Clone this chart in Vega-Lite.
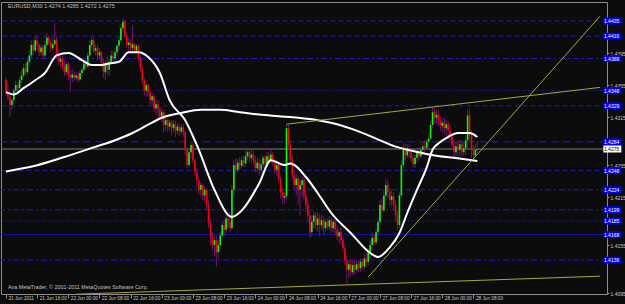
{
"$schema":"https://vega.github.io/schema/vega-lite/v6.json",
"width":606,"height":292,
"autosize":{"type":"none"},
"padding":{"left":1,"top":2,"right":18,"bottom":10},
"background":"#0c0c0c",
"config":{"view":{"stroke":"#8c8c8c","strokeWidth":1},"font":"Liberation Sans"},
"datasets":{
"candles":[
{"t":0,"o":1.4361,"h":1.4364,"l":1.4342,"c":1.4346},{"t":1,"o":1.4346,"h":1.4355,"l":1.4336,"c":1.4340},{"t":2,"o":1.4340,"h":1.4342,"l":1.4315,"c":1.4330},{"t":3,"o":1.4330,"h":1.4338,"l":1.4324,"c":1.4336},{"t":4,"o":1.4336,"h":1.4351,"l":1.4331,"c":1.4348},{"t":5,"o":1.4348,"h":1.4361,"l":1.4345,"c":1.4355},{"t":6,"o":1.4355,"h":1.4358,"l":1.4346,"c":1.4351},{"t":7,"o":1.4351,"h":1.4365,"l":1.4348,"c":1.4361},{"t":8,"o":1.4361,"h":1.4374,"l":1.4357,"c":1.4367},{"t":9,"o":1.4367,"h":1.4381,"l":1.4364,"c":1.4376},
{"t":10,"o":1.4376,"h":1.4382,"l":1.4367,"c":1.4371},{"t":11,"o":1.4371,"h":1.4388,"l":1.4368,"c":1.4384},{"t":12,"o":1.4384,"h":1.4398,"l":1.4380,"c":1.4392},{"t":13,"o":1.4392,"h":1.4411,"l":1.4388,"c":1.4405},{"t":14,"o":1.4405,"h":1.4411,"l":1.4392,"c":1.4398},{"t":15,"o":1.4398,"h":1.4417,"l":1.4396,"c":1.4411},{"t":16,"o":1.4411,"h":1.4416,"l":1.4398,"c":1.4405},{"t":17,"o":1.4405,"h":1.4408,"l":1.4391,"c":1.4396},{"t":18,"o":1.4396,"h":1.4406,"l":1.4392,"c":1.4402},{"t":19,"o":1.4402,"h":1.4405,"l":1.4388,"c":1.4392},
{"t":20,"o":1.4392,"h":1.4411,"l":1.4390,"c":1.4405},{"t":21,"o":1.4405,"h":1.4420,"l":1.4401,"c":1.4414},{"t":22,"o":1.4414,"h":1.4417,"l":1.4404,"c":1.4408},{"t":23,"o":1.4408,"h":1.4411,"l":1.4396,"c":1.4401},{"t":24,"o":1.4401,"h":1.4414,"l":1.4398,"c":1.4406},{"t":25,"o":1.4406,"h":1.4432,"l":1.4404,"c":1.4411},{"t":26,"o":1.4411,"h":1.4416,"l":1.4388,"c":1.4392},{"t":27,"o":1.4392,"h":1.4398,"l":1.4380,"c":1.4384},{"t":28,"o":1.4384,"h":1.4392,"l":1.4378,"c":1.4388},{"t":29,"o":1.4388,"h":1.4392,"l":1.4374,"c":1.4378},
{"t":30,"o":1.4378,"h":1.4386,"l":1.4366,"c":1.4371},{"t":31,"o":1.4371,"h":1.4384,"l":1.4367,"c":1.4381},{"t":32,"o":1.4381,"h":1.4384,"l":1.4361,"c":1.4367},{"t":33,"o":1.4367,"h":1.4374,"l":1.4346,"c":1.4364},{"t":34,"o":1.4364,"h":1.4374,"l":1.4358,"c":1.4368},{"t":35,"o":1.4368,"h":1.4372,"l":1.4360,"c":1.4364},{"t":36,"o":1.4364,"h":1.4371,"l":1.4361,"c":1.4367},{"t":37,"o":1.4367,"h":1.4371,"l":1.4358,"c":1.4362},{"t":38,"o":1.4362,"h":1.4374,"l":1.4360,"c":1.4370},{"t":39,"o":1.4370,"h":1.4378,"l":1.4366,"c":1.4374},
{"t":40,"o":1.4374,"h":1.4386,"l":1.4371,"c":1.4382},{"t":41,"o":1.4382,"h":1.4386,"l":1.4374,"c":1.4378},{"t":42,"o":1.4378,"h":1.4396,"l":1.4376,"c":1.4392},{"t":43,"o":1.4392,"h":1.4411,"l":1.4390,"c":1.4405},{"t":44,"o":1.4405,"h":1.4416,"l":1.4401,"c":1.4411},{"t":45,"o":1.4411,"h":1.4414,"l":1.4395,"c":1.4398},{"t":46,"o":1.4398,"h":1.4406,"l":1.4392,"c":1.4401},{"t":47,"o":1.4401,"h":1.4405,"l":1.4386,"c":1.4392},{"t":48,"o":1.4392,"h":1.4401,"l":1.4388,"c":1.4396},{"t":49,"o":1.4396,"h":1.4398,"l":1.4378,"c":1.4384},
{"t":50,"o":1.4384,"h":1.4388,"l":1.4364,"c":1.4371},{"t":51,"o":1.4371,"h":1.4386,"l":1.4361,"c":1.4380},{"t":52,"o":1.4380,"h":1.4392,"l":1.4368,"c":1.4374},{"t":53,"o":1.4374,"h":1.4388,"l":1.4366,"c":1.4384},{"t":54,"o":1.4384,"h":1.4398,"l":1.4381,"c":1.4392},{"t":55,"o":1.4392,"h":1.4398,"l":1.4384,"c":1.4388},{"t":56,"o":1.4388,"h":1.4401,"l":1.4386,"c":1.4396},{"t":57,"o":1.4396,"h":1.4406,"l":1.4391,"c":1.4404},{"t":58,"o":1.4404,"h":1.4416,"l":1.4398,"c":1.4411},{"t":59,"o":1.4411,"h":1.4431,"l":1.4408,"c":1.4426},
{"t":60,"o":1.4426,"h":1.4439,"l":1.4421,"c":1.4434},{"t":61,"o":1.4434,"h":1.4436,"l":1.4414,"c":1.4417},{"t":62,"o":1.4417,"h":1.4421,"l":1.4401,"c":1.4405},{"t":63,"o":1.4405,"h":1.4414,"l":1.4398,"c":1.4408},{"t":64,"o":1.4408,"h":1.4411,"l":1.4396,"c":1.4401},{"t":65,"o":1.4401,"h":1.4430,"l":1.4398,"c":1.4406},{"t":66,"o":1.4406,"h":1.4408,"l":1.4394,"c":1.4398},{"t":67,"o":1.4398,"h":1.4406,"l":1.4395,"c":1.4404},{"t":68,"o":1.4404,"h":1.4406,"l":1.4384,"c":1.4388},{"t":69,"o":1.4388,"h":1.4392,"l":1.4371,"c":1.4376},
{"t":70,"o":1.4376,"h":1.4380,"l":1.4356,"c":1.4361},{"t":71,"o":1.4361,"h":1.4364,"l":1.4342,"c":1.4348},{"t":72,"o":1.4348,"h":1.4358,"l":1.4340,"c":1.4355},{"t":73,"o":1.4355,"h":1.4357,"l":1.4341,"c":1.4346},{"t":74,"o":1.4346,"h":1.4348,"l":1.4331,"c":1.4336},{"t":75,"o":1.4336,"h":1.4345,"l":1.4328,"c":1.4341},{"t":76,"o":1.4341,"h":1.4344,"l":1.4321,"c":1.4326},{"t":77,"o":1.4326,"h":1.4336,"l":1.4318,"c":1.4331},{"t":78,"o":1.4331,"h":1.4336,"l":1.4311,"c":1.4324},{"t":79,"o":1.4324,"h":1.4328,"l":1.4311,"c":1.4316},
{"t":80,"o":1.4316,"h":1.4327,"l":1.4308,"c":1.4321},{"t":81,"o":1.4321,"h":1.4324,"l":1.4295,"c":1.4305},{"t":82,"o":1.4305,"h":1.4317,"l":1.4298,"c":1.4311},{"t":83,"o":1.4311,"h":1.4313,"l":1.4296,"c":1.4303},{"t":84,"o":1.4303,"h":1.4312,"l":1.4298,"c":1.4308},{"t":85,"o":1.4308,"h":1.4311,"l":1.4292,"c":1.4301},{"t":86,"o":1.4301,"h":1.4311,"l":1.4296,"c":1.4306},{"t":87,"o":1.4306,"h":1.4310,"l":1.4290,"c":1.4298},{"t":88,"o":1.4298,"h":1.4308,"l":1.4293,"c":1.4303},{"t":89,"o":1.4303,"h":1.4307,"l":1.4291,"c":1.4297},
{"t":90,"o":1.4297,"h":1.4306,"l":1.4293,"c":1.4302},{"t":91,"o":1.4302,"h":1.4306,"l":1.4290,"c":1.4296},{"t":92,"o":1.4296,"h":1.4298,"l":1.4267,"c":1.4274},{"t":93,"o":1.4274,"h":1.4276,"l":1.4251,"c":1.4255},{"t":94,"o":1.4255,"h":1.4276,"l":1.4252,"c":1.4271},{"t":95,"o":1.4271,"h":1.4283,"l":1.4263,"c":1.4280},{"t":96,"o":1.4280,"h":1.4282,"l":1.4257,"c":1.4261},{"t":97,"o":1.4261,"h":1.4263,"l":1.4241,"c":1.4246},{"t":98,"o":1.4246,"h":1.4251,"l":1.4228,"c":1.4236},{"t":99,"o":1.4236,"h":1.4241,"l":1.4218,"c":1.4224},
{"t":100,"o":1.4224,"h":1.4233,"l":1.4216,"c":1.4230},{"t":101,"o":1.4230,"h":1.4232,"l":1.4211,"c":1.4217},{"t":102,"o":1.4217,"h":1.4228,"l":1.4209,"c":1.4224},{"t":103,"o":1.4224,"h":1.4226,"l":1.4198,"c":1.4205},{"t":104,"o":1.4205,"h":1.4211,"l":1.4176,"c":1.4184},{"t":105,"o":1.4184,"h":1.4188,"l":1.4155,"c":1.4164},{"t":106,"o":1.4164,"h":1.4171,"l":1.4149,"c":1.4155},{"t":107,"o":1.4155,"h":1.4167,"l":1.4142,"c":1.4161},{"t":108,"o":1.4161,"h":1.4166,"l":1.4128,"c":1.4146},{"t":109,"o":1.4146,"h":1.4161,"l":1.4138,"c":1.4155},
{"t":110,"o":1.4155,"h":1.4171,"l":1.4149,"c":1.4167},{"t":111,"o":1.4167,"h":1.4184,"l":1.4161,"c":1.4180},{"t":112,"o":1.4180,"h":1.4188,"l":1.4166,"c":1.4174},{"t":113,"o":1.4174,"h":1.4196,"l":1.4170,"c":1.4188},{"t":114,"o":1.4188,"h":1.4194,"l":1.4176,"c":1.4184},{"t":115,"o":1.4184,"h":1.4196,"l":1.4171,"c":1.4176},{"t":116,"o":1.4176,"h":1.4230,"l":1.4174,"c":1.4224},{"t":117,"o":1.4224,"h":1.4261,"l":1.4217,"c":1.4255},{"t":118,"o":1.4255,"h":1.4263,"l":1.4242,"c":1.4249},{"t":119,"o":1.4249,"h":1.4263,"l":1.4246,"c":1.4258},
{"t":120,"o":1.4258,"h":1.4265,"l":1.4249,"c":1.4254},{"t":121,"o":1.4254,"h":1.4266,"l":1.4251,"c":1.4261},{"t":122,"o":1.4261,"h":1.4267,"l":1.4252,"c":1.4257},{"t":123,"o":1.4257,"h":1.4274,"l":1.4253,"c":1.4266},{"t":124,"o":1.4266,"h":1.4277,"l":1.4261,"c":1.4271},{"t":125,"o":1.4271,"h":1.4275,"l":1.4258,"c":1.4264},{"t":126,"o":1.4264,"h":1.4274,"l":1.4258,"c":1.4268},{"t":127,"o":1.4268,"h":1.4272,"l":1.4256,"c":1.4261},{"t":128,"o":1.4261,"h":1.4267,"l":1.4246,"c":1.4251},{"t":129,"o":1.4251,"h":1.4263,"l":1.4246,"c":1.4258},
{"t":130,"o":1.4258,"h":1.4263,"l":1.4242,"c":1.4249},{"t":131,"o":1.4249,"h":1.4261,"l":1.4245,"c":1.4256},{"t":132,"o":1.4256,"h":1.4267,"l":1.4251,"c":1.4264},{"t":133,"o":1.4264,"h":1.4267,"l":1.4251,"c":1.4257},{"t":134,"o":1.4257,"h":1.4271,"l":1.4253,"c":1.4266},{"t":135,"o":1.4266,"h":1.4271,"l":1.4256,"c":1.4261},{"t":136,"o":1.4261,"h":1.4274,"l":1.4257,"c":1.4268},{"t":137,"o":1.4268,"h":1.4271,"l":1.4253,"c":1.4258},{"t":138,"o":1.4258,"h":1.4263,"l":1.4244,"c":1.4249},{"t":139,"o":1.4249,"h":1.4261,"l":1.4241,"c":1.4255},
{"t":140,"o":1.4255,"h":1.4258,"l":1.4234,"c":1.4238},{"t":141,"o":1.4238,"h":1.4242,"l":1.4214,"c":1.4221},{"t":142,"o":1.4221,"h":1.4226,"l":1.4206,"c":1.4214},{"t":143,"o":1.4214,"h":1.4221,"l":1.4207,"c":1.4216},{"t":144,"o":1.4216,"h":1.4306,"l":1.4211,"c":1.4301},{"t":145,"o":1.4301,"h":1.4305,"l":1.4274,"c":1.4280},{"t":146,"o":1.4280,"h":1.4286,"l":1.4255,"c":1.4261},{"t":147,"o":1.4261,"h":1.4267,"l":1.4236,"c":1.4242},{"t":148,"o":1.4242,"h":1.4249,"l":1.4224,"c":1.4230},{"t":149,"o":1.4230,"h":1.4244,"l":1.4217,"c":1.4238},
{"t":150,"o":1.4238,"h":1.4242,"l":1.4205,"c":1.4224},{"t":151,"o":1.4224,"h":1.4236,"l":1.4192,"c":1.4230},{"t":152,"o":1.4230,"h":1.4241,"l":1.4214,"c":1.4236},{"t":153,"o":1.4236,"h":1.4240,"l":1.4211,"c":1.4217},{"t":154,"o":1.4217,"h":1.4224,"l":1.4196,"c":1.4205},{"t":155,"o":1.4205,"h":1.4211,"l":1.4184,"c":1.4192},{"t":156,"o":1.4192,"h":1.4198,"l":1.4164,"c":1.4171},{"t":157,"o":1.4171,"h":1.4192,"l":1.4166,"c":1.4184},{"t":158,"o":1.4184,"h":1.4198,"l":1.4176,"c":1.4192},{"t":159,"o":1.4192,"h":1.4196,"l":1.4174,"c":1.4180},
{"t":160,"o":1.4180,"h":1.4196,"l":1.4171,"c":1.4188},{"t":161,"o":1.4188,"h":1.4194,"l":1.4166,"c":1.4180},{"t":162,"o":1.4180,"h":1.4192,"l":1.4174,"c":1.4186},{"t":163,"o":1.4186,"h":1.4191,"l":1.4168,"c":1.4176},{"t":164,"o":1.4176,"h":1.4188,"l":1.4171,"c":1.4184},{"t":165,"o":1.4184,"h":1.4188,"l":1.4174,"c":1.4178},{"t":166,"o":1.4178,"h":1.4191,"l":1.4174,"c":1.4186},{"t":167,"o":1.4186,"h":1.4190,"l":1.4170,"c":1.4176},{"t":168,"o":1.4176,"h":1.4188,"l":1.4171,"c":1.4184},{"t":169,"o":1.4184,"h":1.4187,"l":1.4167,"c":1.4174},
{"t":170,"o":1.4174,"h":1.4181,"l":1.4161,"c":1.4166},{"t":171,"o":1.4166,"h":1.4176,"l":1.4158,"c":1.4171},{"t":172,"o":1.4171,"h":1.4176,"l":1.4155,"c":1.4161},{"t":173,"o":1.4161,"h":1.4166,"l":1.4146,"c":1.4151},{"t":174,"o":1.4151,"h":1.4156,"l":1.4130,"c":1.4136},{"t":175,"o":1.4136,"h":1.4142,"l":1.4107,"c":1.4124},{"t":176,"o":1.4124,"h":1.4136,"l":1.4114,"c":1.4131},{"t":177,"o":1.4131,"h":1.4138,"l":1.4116,"c":1.4121},{"t":178,"o":1.4121,"h":1.4136,"l":1.4117,"c":1.4130},{"t":179,"o":1.4130,"h":1.4135,"l":1.4118,"c":1.4124},
{"t":180,"o":1.4124,"h":1.4136,"l":1.4120,"c":1.4131},{"t":181,"o":1.4131,"h":1.4136,"l":1.4121,"c":1.4126},{"t":182,"o":1.4126,"h":1.4138,"l":1.4121,"c":1.4134},{"t":183,"o":1.4134,"h":1.4138,"l":1.4124,"c":1.4128},{"t":184,"o":1.4128,"h":1.4144,"l":1.4124,"c":1.4138},{"t":185,"o":1.4138,"h":1.4145,"l":1.4128,"c":1.4134},{"t":186,"o":1.4134,"h":1.4151,"l":1.4130,"c":1.4146},{"t":187,"o":1.4146,"h":1.4161,"l":1.4141,"c":1.4155},{"t":188,"o":1.4155,"h":1.4171,"l":1.4149,"c":1.4164},{"t":189,"o":1.4164,"h":1.4168,"l":1.4154,"c":1.4158},
{"t":190,"o":1.4158,"h":1.4176,"l":1.4155,"c":1.4171},{"t":191,"o":1.4171,"h":1.4188,"l":1.4166,"c":1.4184},{"t":192,"o":1.4184,"h":1.4211,"l":1.4180,"c":1.4205},{"t":193,"o":1.4205,"h":1.4214,"l":1.4194,"c":1.4198},{"t":194,"o":1.4198,"h":1.4224,"l":1.4196,"c":1.4217},{"t":195,"o":1.4217,"h":1.4238,"l":1.4211,"c":1.4230},{"t":196,"o":1.4230,"h":1.4236,"l":1.4214,"c":1.4221},{"t":197,"o":1.4221,"h":1.4226,"l":1.4205,"c":1.4211},{"t":198,"o":1.4211,"h":1.4224,"l":1.4204,"c":1.4216},{"t":199,"o":1.4216,"h":1.4221,"l":1.4198,"c":1.4205},
{"t":200,"o":1.4205,"h":1.4211,"l":1.4184,"c":1.4192},{"t":201,"o":1.4192,"h":1.4198,"l":1.4174,"c":1.4180},{"t":202,"o":1.4180,"h":1.4221,"l":1.4176,"c":1.4217},{"t":203,"o":1.4217,"h":1.4261,"l":1.4214,"c":1.4255},{"t":204,"o":1.4255,"h":1.4282,"l":1.4251,"c":1.4274},{"t":205,"o":1.4274,"h":1.4282,"l":1.4261,"c":1.4267},{"t":206,"o":1.4267,"h":1.4281,"l":1.4264,"c":1.4276},{"t":207,"o":1.4276,"h":1.4281,"l":1.4264,"c":1.4271},{"t":208,"o":1.4271,"h":1.4276,"l":1.4258,"c":1.4264},{"t":209,"o":1.4264,"h":1.4268,"l":1.4252,"c":1.4256},
{"t":210,"o":1.4256,"h":1.4268,"l":1.4251,"c":1.4264},{"t":211,"o":1.4264,"h":1.4276,"l":1.4258,"c":1.4271},{"t":212,"o":1.4271,"h":1.4276,"l":1.4261,"c":1.4266},{"t":213,"o":1.4266,"h":1.4278,"l":1.4264,"c":1.4274},{"t":214,"o":1.4274,"h":1.4284,"l":1.4268,"c":1.4278},{"t":215,"o":1.4278,"h":1.4286,"l":1.4271,"c":1.4276},{"t":216,"o":1.4276,"h":1.4288,"l":1.4274,"c":1.4284},{"t":217,"o":1.4284,"h":1.4294,"l":1.4278,"c":1.4288},{"t":218,"o":1.4288,"h":1.4311,"l":1.4286,"c":1.4305},{"t":219,"o":1.4305,"h":1.4327,"l":1.4301,"c":1.4321},
{"t":220,"o":1.4321,"h":1.4326,"l":1.4308,"c":1.4314},{"t":221,"o":1.4314,"h":1.4324,"l":1.4306,"c":1.4318},{"t":222,"o":1.4318,"h":1.4324,"l":1.4304,"c":1.4311},{"t":223,"o":1.4311,"h":1.4316,"l":1.4298,"c":1.4304},{"t":224,"o":1.4304,"h":1.4314,"l":1.4296,"c":1.4308},{"t":225,"o":1.4308,"h":1.4314,"l":1.4294,"c":1.4301},{"t":226,"o":1.4301,"h":1.4311,"l":1.4291,"c":1.4306},{"t":227,"o":1.4306,"h":1.4310,"l":1.4290,"c":1.4298},{"t":228,"o":1.4298,"h":1.4304,"l":1.4286,"c":1.4291},{"t":229,"o":1.4291,"h":1.4296,"l":1.4274,"c":1.4280},
{"t":230,"o":1.4280,"h":1.4286,"l":1.4265,"c":1.4271},{"t":231,"o":1.4271,"h":1.4284,"l":1.4266,"c":1.4278},{"t":232,"o":1.4278,"h":1.4284,"l":1.4264,"c":1.4274},{"t":233,"o":1.4274,"h":1.4286,"l":1.4267,"c":1.4281},{"t":234,"o":1.4281,"h":1.4286,"l":1.4266,"c":1.4271},{"t":235,"o":1.4271,"h":1.4284,"l":1.4266,"c":1.4276},{"t":236,"o":1.4276,"h":1.4292,"l":1.4267,"c":1.4286},{"t":237,"o":1.4286,"h":1.4324,"l":1.4274,"c":1.4317},{"t":238,"o":1.4317,"h":1.4326,"l":1.4286,"c":1.4292},{"t":239,"o":1.4292,"h":1.4298,"l":1.4264,"c":1.4274},
{"t":240,"o":1.4274,"h":1.4280,"l":1.4261,"c":1.4267},{"t":241,"o":1.4267,"h":1.4282,"l":1.4264,"c":1.4274},{"t":242,"o":1.4274,"h":1.4285,"l":1.4272,"c":1.4275}
],
"levels":[{"p":1.4435},{"p":1.4416},{"p":1.4388},{"p":1.4348},{"p":1.4329},{"p":1.4284},{"p":1.4248},{"p":1.4224},{"p":1.4199},{"p":1.4185},{"p":1.4168},{"p":1.4136}],
"slow":[{"t":0,"p":1.4247},{"t":15,"p":1.4254},{"t":30,"p":1.4265},{"t":45,"p":1.4277},{"t":55,"p":1.4285},{"t":65,"p":1.4295},{"t":75,"p":1.4308},{"t":80,"p":1.4314},{"t":90,"p":1.4320},{"t":100,"p":1.4324},{"t":110,"p":1.4324},{"t":120,"p":1.4321},{"t":130,"p":1.4318},{"t":140,"p":1.4316},{"t":150,"p":1.4314},{"t":160,"p":1.4311},{"t":170,"p":1.4306},{"t":180,"p":1.4298},{"t":190,"p":1.4288},{"t":200,"p":1.4278},{"t":210,"p":1.4272},{"t":220,"p":1.4267},{"t":230,"p":1.4264},{"t":242,"p":1.4260}],
"fast":[{"t":0,"p":1.4346},{"t":4,"p":1.4343},{"t":9,"p":1.4351},{"t":15,"p":1.4361},{"t":20,"p":1.4370},{"t":26,"p":1.4392},{"t":32,"p":1.4395},{"t":39,"p":1.4386},{"t":44,"p":1.4380},{"t":49,"p":1.4380},{"t":53,"p":1.4382},{"t":58,"p":1.4384},{"t":63,"p":1.4396},{"t":68,"p":1.4396},{"t":73,"p":1.4390},{"t":79,"p":1.4370},{"t":84,"p":1.4336},{"t":92,"p":1.4311},{"t":99,"p":1.4274},{"t":107,"p":1.4224},{"t":116,"p":1.4190},{"t":121,"p":1.4198},{"t":130,"p":1.4232},{"t":136,"p":1.4261},{"t":143,"p":1.4255},{"t":146,"p":1.4257},{"t":154,"p":1.4240},{"t":160,"p":1.4220},{"t":167,"p":1.4195},{"t":177,"p":1.4170},{"t":187,"p":1.4145},{"t":191,"p":1.4140},{"t":197,"p":1.4152},{"t":202,"p":1.4170},{"t":206,"p":1.4195},{"t":211,"p":1.4224},{"t":216,"p":1.4252},{"t":219,"p":1.4274},{"t":222,"p":1.4282},{"t":227,"p":1.4290},{"t":232,"p":1.4295},{"t":238,"p":1.4295},{"t":242,"p":1.4290}],
"trend":[{"line":"a","t":36,"p":1.40935},{"line":"a","t":305,"p":1.4116},{"line":"b","t":144,"p":1.4306},{"line":"b","t":305,"p":1.4352},{"line":"c","t":186,"p":1.4115},{"line":"c","t":305,"p":1.4441}]
},
"layer":[
{"data":{"name":"levels"},"transform":[{"filter":{"field":"p","oneOf":[1.4435,1.4416,1.4329,1.4248]}}],
 "mark":{"type":"rule","color":"#1c1cd8","strokeWidth":1,"strokeDash":[4,4]},
 "encoding":{"y":{"field":"p","type":"quantitative","scale":{"domain":[1.409375,1.445875],"nice":false,"zero":false},
   "axis":{"orient":"right","values":[1.4095,1.4115,1.4155,1.4175,1.4215,1.4235,1.4255,1.4295,1.4315,1.4335,1.4355,1.4375,1.4395,1.4455],"format":".4f","labelFontSize":5,"labelColor":"#c8c8c8","tickColor":"#8c8c8c","tickSize":2,"labelPadding":1,"domain":false,"grid":false,"title":null,"labelOverlap":false,"labelFlush":false,"labelBaseline":"middle"}}}},
{"data":{"name":"levels"},"transform":[{"filter":{"field":"p","oneOf":[1.4388,1.4224,1.4199,1.4136]}}],
 "mark":{"type":"rule","color":"#1c1cd8","strokeWidth":1,"strokeDash":[6,3,2,3]},
 "encoding":{"y":{"field":"p","type":"quantitative","scale":{"domain":[1.409375,1.445875],"nice":false,"zero":false}}}},
{"data":{"name":"levels"},"transform":[{"filter":{"field":"p","oneOf":[1.4348,1.4185]}}],
 "mark":{"type":"rule","color":"#1c1cd8","strokeWidth":1,"strokeDash":[1,2]},
 "encoding":{"y":{"field":"p","type":"quantitative","scale":{"domain":[1.409375,1.445875],"nice":false,"zero":false}}}},
{"data":{"name":"levels"},"transform":[{"filter":{"field":"p","oneOf":[1.4284]}}],
 "mark":{"type":"rule","color":"#1c1cd8","strokeWidth":1,"strokeDash":[8,4]},
 "encoding":{"y":{"field":"p","type":"quantitative","scale":{"domain":[1.409375,1.445875],"nice":false,"zero":false}}}},
{"data":{"name":"levels"},"transform":[{"filter":{"field":"p","oneOf":[1.4168]}}],
 "mark":{"type":"rule","color":"#1010b0","strokeWidth":1},
 "encoding":{"y":{"field":"p","type":"quantitative","scale":{"domain":[1.409375,1.445875],"nice":false,"zero":false}}}},
{"data":{"values":[{"p":1.4275}]},
 "mark":{"type":"rule","color":"#808080","strokeWidth":1},
 "encoding":{"y":{"field":"p","type":"quantitative","scale":{"domain":[1.409375,1.445875],"nice":false,"zero":false}}}},
{"data":{"name":"candles"},
 "mark":{"type":"rule","color":"#6a1a6a","strokeWidth":1},
 "encoding":{"x":{"field":"t","type":"quantitative","scale":{"domain":[0,306],"nice":false,"zero":false},
   "axis":{"values":[0,16,32,48,64,80,96,112,128,144,160,176,192,208,224,240],"labelExpr":"['21 Jun 2011','21 Jun 16:00','22 Jun 00:00','22 Jun 08:00','22 Jun 16:00','23 Jun 00:00','23 Jun 08:00','23 Jun 16:00','24 Jun 00:00','24 Jun 08:00','24 Jun 16:00','27 Jun 00:00','27 Jun 08:00','27 Jun 16:00','28 Jun 00:00','28 Jun 08:00'][round(datum.value/16)]","labelAlign":"left","labelBaseline":"top","labelFontSize":4.7,"labelColor":"#c8c8c8","tickColor":"#8c8c8c","tickSize":4,"labelPadding":-3,"labelOffset":2,"domain":false,"grid":false,"title":null,"labelOverlap":false,"labelFlush":false}},
  "y":{"field":"l","type":"quantitative","scale":{"domain":[1.409375,1.445875],"nice":false,"zero":false}},
  "y2":{"field":"h"}}},
{"data":{"name":"candles"},
 "mark":{"type":"bar","size":1.6},
 "encoding":{"x":{"field":"t","type":"quantitative","scale":{"domain":[0,306],"nice":false,"zero":false}},
  "y":{"field":"o","type":"quantitative","scale":{"domain":[1.409375,1.445875],"nice":false,"zero":false}},
  "y2":{"field":"c"},
  "color":{"condition":{"test":"datum.c >= datum.o","value":"#00ff00"},"value":"#ff0000"}}},
{"data":{"name":"slow"},
 "mark":{"type":"line","color":"#ffffff","strokeWidth":2,"interpolate":"monotone"},
 "encoding":{"x":{"field":"t","type":"quantitative","scale":{"domain":[0,306],"nice":false,"zero":false}},
  "y":{"field":"p","type":"quantitative","scale":{"domain":[1.409375,1.445875],"nice":false,"zero":false}}}},
{"data":{"name":"fast"},
 "mark":{"type":"line","color":"#ffffff","strokeWidth":2,"interpolate":"monotone"},
 "encoding":{"x":{"field":"t","type":"quantitative","scale":{"domain":[0,306],"nice":false,"zero":false}},
  "y":{"field":"p","type":"quantitative","scale":{"domain":[1.409375,1.445875],"nice":false,"zero":false}}}},
{"data":{"name":"trend"},
 "mark":{"type":"line","color":"#a8a83a","strokeWidth":1,"clip":true},
 "encoding":{"x":{"field":"t","type":"quantitative","scale":{"domain":[0,306],"nice":false,"zero":false}},
  "y":{"field":"p","type":"quantitative","scale":{"domain":[1.409375,1.445875],"nice":false,"zero":false}},
  "detail":{"field":"line"}}},
{"data":{"name":"levels"},
 "mark":{"type":"tick","orient":"horizontal","size":18,"thickness":7,"color":"#0000f0","opacity":1},
 "encoding":{"x":{"datum":311.3,"type":"quantitative","scale":{"domain":[0,306],"nice":false,"zero":false}},
  "y":{"field":"p","type":"quantitative","scale":{"domain":[1.409375,1.445875],"nice":false,"zero":false}}}},
{"data":{"name":"levels"},
 "mark":{"type":"text","align":"left","baseline":"middle","fontSize":5,"color":"#ffffff"},
 "encoding":{"x":{"datum":307,"type":"quantitative","scale":{"domain":[0,306],"nice":false,"zero":false}},
  "y":{"field":"p","type":"quantitative","scale":{"domain":[1.409375,1.445875],"nice":false,"zero":false}},
  "text":{"field":"p","type":"quantitative","format":".4f"}}},
{"data":{"values":[{"p":1.4275}]},
 "mark":{"type":"tick","orient":"horizontal","size":18,"thickness":7,"color":"#ffffff","opacity":1},
 "encoding":{"x":{"datum":311.3,"type":"quantitative","scale":{"domain":[0,306],"nice":false,"zero":false}},
  "y":{"field":"p","type":"quantitative","scale":{"domain":[1.409375,1.445875],"nice":false,"zero":false}}}},
{"data":{"values":[{"p":1.4275}]},
 "mark":{"type":"text","align":"left","baseline":"middle","fontSize":5,"color":"#000000"},
 "encoding":{"x":{"datum":307,"type":"quantitative","scale":{"domain":[0,306],"nice":false,"zero":false}},
  "y":{"field":"p","type":"quantitative","scale":{"domain":[1.409375,1.445875],"nice":false,"zero":false}},
  "text":{"field":"p","type":"quantitative","format":".4f"}}},
{"data":{"values":[{"t":1,"p":1.44538,"label":"EURUSD,M30  1.4274 1.4285 1.4272 1.4275"},{"t":1,"p":1.41025,"label":"Ava MetaTrader, © 2001-2011 MetaQuotes Software Corp."}]},
 "mark":{"type":"text","align":"left","baseline":"middle","fontSize":5.4,"color":"#c0c0c0"},
 "encoding":{"x":{"field":"t","type":"quantitative","scale":{"domain":[0,306],"nice":false,"zero":false}},
  "y":{"field":"p","type":"quantitative","scale":{"domain":[1.409375,1.445875],"nice":false,"zero":false}},
  "text":{"field":"label"}}}
]
}
